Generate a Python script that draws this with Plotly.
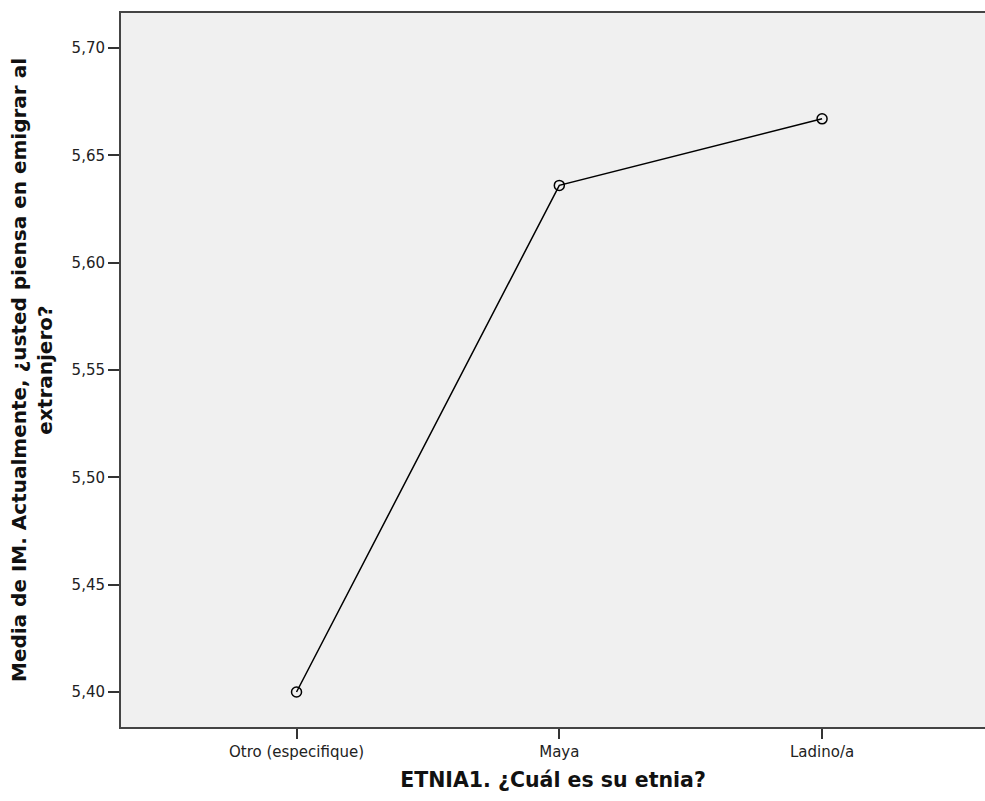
import plotly.graph_objects as go

categories = ["Otro (especifique)", "Maya", "Ladino/a"]
means = [5.400, 5.636, 5.667]
y_ticks = [5.40, 5.45, 5.50, 5.55, 5.60, 5.65, 5.70]

fig = go.Figure()
fig.add_trace(go.Scatter(
    x=list(range(len(categories))), y=means, mode="lines+markers",
    line=dict(color="black", width=1.5),
    marker=dict(symbol="circle-open", size=10, color="black", line=dict(width=1.5)),
    showlegend=False, hoverinfo="skip",
))

FONT = "DejaVu Sans, Liberation Sans, Arial, sans-serif"
fig.update_layout(
    width=985, height=801,
    margin=dict(l=121, r=0, t=13, b=74),
    paper_bgcolor="white", plot_bgcolor="#f0f0f0",
    separators=", ",
    font=dict(family=FONT, color="#222", size=15),
)
fig.update_xaxes(
    range=[-0.668, 2.62],
    tickvals=list(range(len(categories))), ticktext=categories,
    ticks="outside", ticklen=10, tickwidth=2, tickcolor="#333",
    showline=True, linecolor="#444", linewidth=2, mirror=True,
    showgrid=False, zeroline=False,
    tickfont=dict(family=FONT, size=15, color="#222"),
    title=dict(text="<b>ETNIA1. ¿Cuál es su etnia?</b>", font=dict(family=FONT, size=20.5, color="#111"), standoff=13),
)
fig.update_yaxes(
    range=[5.3837, 5.7163],
    tickvals=y_ticks, tickformat=".2f",
    ticks="outside", ticklen=11, tickwidth=2, tickcolor="#333",
    showline=True, linecolor="#444", linewidth=2, mirror=False,
    showgrid=False, zeroline=False,
    tickfont=dict(family=FONT, size=15, color="#222"),
    title=dict(text="<b>Media de IM. Actualmente, ¿usted piensa en emigrar al<br>extranjero?</b>",
               font=dict(family=FONT, size=20, color="#111"), standoff=14),
)

post = ("var gd=document.getElementById('{plot_id}');"
        "document.body.style.margin='0';document.body.style.overflow='hidden';"
        "Plotly.relayout(gd,{width:985,height:801});")
fig.write_html("out.html", post_script=post,
               config={"responsive": False, "displayModeBar": False})
